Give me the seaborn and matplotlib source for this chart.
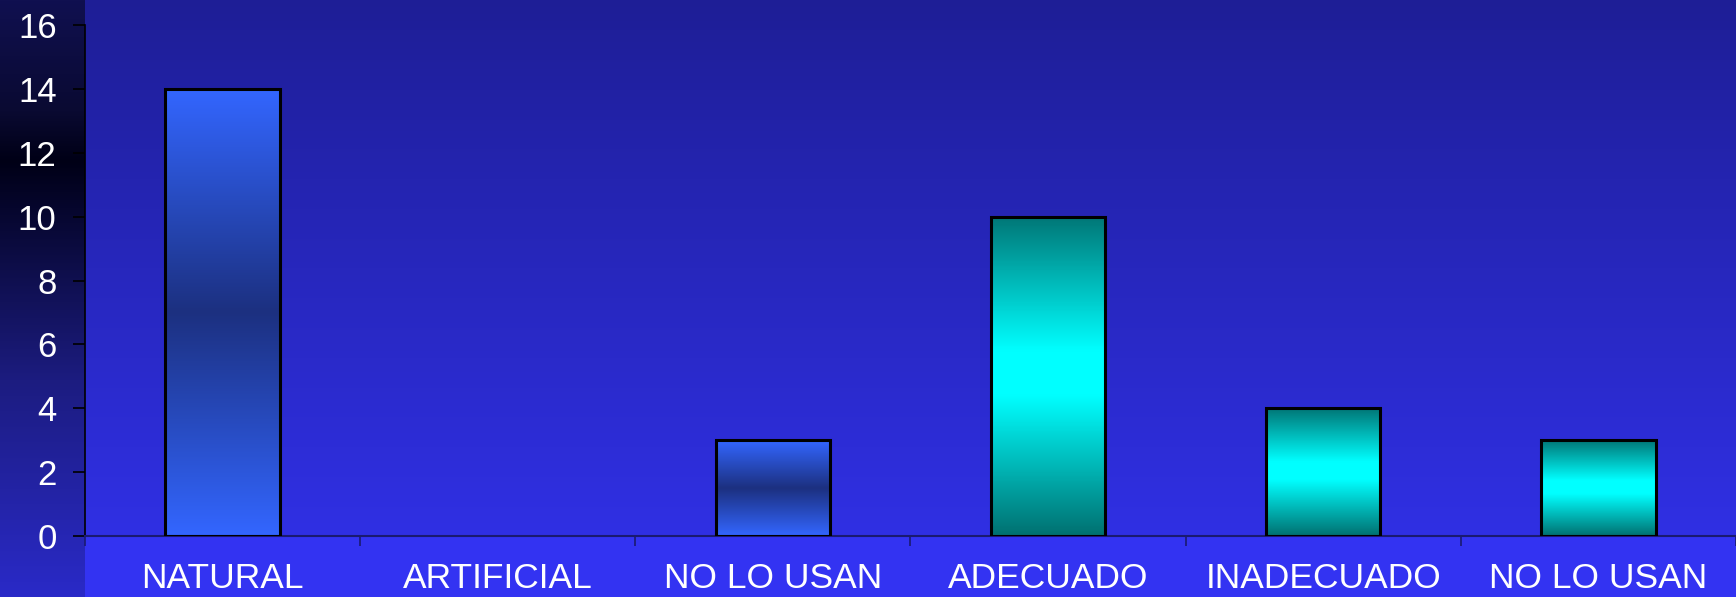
import numpy as np
import matplotlib
matplotlib.use("Agg")
import matplotlib.pyplot as plt
import seaborn as sns
import pandas as pd
from matplotlib.colors import LinearSegmentedColormap

# datos
categorias = ["NATURAL", "ARTIFICIAL", "NO LO USAN", "ADECUADO", "INADECUADO", "NO LO USAN"]
valores = [14, 0, 3, 10, 4, 3]
grupos = ["tipo", "tipo", "tipo", "uso", "uso", "uso"]
yticks = [0, 2, 4, 6, 8, 10, 12, 14, 16]

df = pd.DataFrame({"pos": range(len(categorias)), "valor": valores, "grupo": grupos})

sns.set_style("white")
plt.rcParams["font.family"] = ["Liberation Sans", "DejaVu Sans"]

W, H = 1736, 597
fig = plt.figure(figsize=(W / 100, H / 100), dpi=100)

# fondo degradado
left_px, zero_px = 85, 536
img = np.zeros((H, W, 3))
yy = np.arange(H)
top = np.array([30, 30, 150]) / 255
bot = np.array([48, 48, 228]) / 255
t = np.clip(yy / zero_px, 0, 1)[:, None]
plot_col = top * (1 - t) + bot * t
plot_col[yy > zero_px] = np.array([51, 51, 242]) / 255
img[:, left_px:, :] = plot_col[:, None, :]
# franja izquierda
stops_y = [0, 110, 160, 380, 597]
stops_c = np.array([[16, 16, 80], [10, 10, 50], [0, 0, 22], [28, 28, 128], [42, 42, 200]]) / 255
strip = np.stack([np.interp(yy, stops_y, stops_c[:, k]) for k in range(3)], axis=1)
img[:, :left_px, :] = strip[:, None, :]

bg = fig.add_axes([0, 0, 1, 1], zorder=0)
bg.imshow(img, aspect="auto", extent=[0, W, H, 0])
bg.axis("off")

ax = fig.add_axes([left_px / W, (H - zero_px) / H, (W - left_px) / W, (zero_px - 25) / H], zorder=1)
ax.patch.set_alpha(0)

sns.barplot(data=df, x="pos", y="valor", width=0.415, color="white", ax=ax)

cmaps = {
    "tipo": LinearSegmentedColormap.from_list("azul", ["#3366ff", "#1c3080", "#3366ff"]),
    "uso": LinearSegmentedColormap.from_list(
        "cian", [(0, "#007676"), (0.42, "#00ffff"), (0.56, "#00ffff"), (1, "#007070")]),
}
grad = np.linspace(0, 1, 256).reshape(-1, 1)
for patch, g in zip(ax.patches, grupos):
    x, w, h = patch.get_x(), patch.get_width(), patch.get_height()
    if h == 0:
        patch.set_visible(False)
        continue
    patch.set_facecolor("none")
    patch.set_edgecolor("black")
    patch.set_linewidth(2.2)
    patch.set_zorder(3)
    im = ax.imshow(grad, extent=[x, x + w, 0, h], aspect="auto", cmap=cmaps[g], zorder=2)
    im.set_clip_path(patch)

ax.set_xlim(-0.5, len(categorias) - 0.5)
ax.set_ylim(0, 16)
ax.set_yticks(yticks)
ax.set_yticklabels([str(v) for v in yticks])
ax.set_xticks(np.arange(len(categorias)))
ax.set_xticklabels(categorias)
ax.set_xticks(np.arange(-0.5, len(categorias)), minor=True)
ax.set_xlabel("")
ax.set_ylabel("")

ax.tick_params(axis="x", which="major", length=0, pad=19, labelsize=25.5, labelcolor="white")
ax.tick_params(axis="x", which="minor", length=7.5, width=1.2, color="#1a1a70", direction="out", bottom=True)
ax.tick_params(axis="y", length=8.5, width=1.2, color="black", direction="out", left=True,
               pad=12, labelsize=25, labelcolor="white")

for s in ["top", "right"]:
    ax.spines[s].set_visible(False)
ax.spines["left"].set_color("black")
ax.spines["left"].set_linewidth(1.2)
ax.spines["bottom"].set_color("#1a1a70")
ax.spines["bottom"].set_linewidth(1.5)

fig.savefig("out.png", dpi=100)
